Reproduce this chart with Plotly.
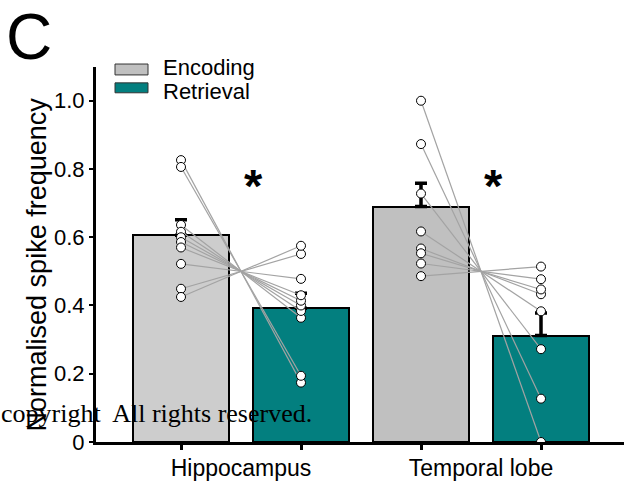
import plotly.graph_objects as go

# ---------------- data ----------------
categories = ["Hippocampus", "Temporal lobe"]
conditions = ["Encoding", "Retrieval"]

enc_means = [0.606, 0.690]
ret_means = [0.392, 0.312]
enc_err = [0.045, 0.068]
ret_err = [0.044, 0.066]

hipp_enc = [0.826, 0.806, 0.636, 0.616, 0.600, 0.586, 0.570, 0.522, 0.449, 0.425]
hipp_ret = [0.174, 0.194, 0.364, 0.384, 0.400, 0.414, 0.430, 0.478, 0.551, 0.575]
temp_enc = [1.000, 0.873, 0.728, 0.617, 0.567, 0.553, 0.523, 0.486]
temp_ret = [0.000, 0.127, 0.272, 0.383, 0.433, 0.447, 0.477, 0.514]

y_ticks = [0, 0.2, 0.4, 0.6, 0.8, 1.0]
y_ticktext = ["0", "0.2", "0.4", "0.6", "0.8", "1.0"]
significance = ["*", "*"]

# ---------------- styling ----------------
SANS = "Liberation Sans, Arial, sans-serif"
SERIF = "Liberation Serif, Times New Roman, serif"
ENC_COLORS = ["#CDCDCD", "#C0C0C0"]
RET_COLOR = "#037F7F"
LINE_GRAY = "#A3A3A3"

W, H = 624, 481
ML, MR, MT, MB = 96, 0, 67, 36
PW = W - ML - MR
PH = H - MT - MB

# bar positions: each category has an encoding and a retrieval bar
enc_x = [2 * i for i in range(len(categories))]
ret_x = [2 * i + 1 for i in range(len(categories))]
cat_x = [2 * i + 0.5 for i in range(len(categories))]

fig = go.Figure()

fig.add_trace(go.Bar(
    x=enc_x, y=enc_means, width=0.8, name=conditions[0],
    marker=dict(color=ENC_COLORS, line=dict(color="black", width=2)),
    error_y=dict(type="data", array=enc_err, symmetric=False,
                 arrayminus=[0] * len(enc_err), color="black",
                 thickness=3.5, width=6),
    showlegend=False,
))
fig.add_trace(go.Bar(
    x=ret_x, y=ret_means, width=0.8, name=conditions[1],
    marker=dict(color=RET_COLOR, line=dict(color="black", width=2)),
    error_y=dict(type="data", array=ret_err, symmetric=False,
                 arrayminus=[0] * len(ret_err), color="black",
                 thickness=3.5, width=6),
    showlegend=False,
))

pairs = [(hipp_enc, hipp_ret), (temp_enc, temp_ret)]
for i, (e_vals, r_vals) in enumerate(pairs):
    lx, ly = [], []
    for e, r in zip(e_vals, r_vals):
        lx += [enc_x[i], ret_x[i], None]
        ly += [e, r, None]
    fig.add_trace(go.Scatter(
        x=lx, y=ly, mode="lines",
        line=dict(color=LINE_GRAY, width=1.2),
        hoverinfo="skip", showlegend=False,
    ))

for i, (e_vals, r_vals) in enumerate(pairs):
    fig.add_trace(go.Scatter(
        x=[enc_x[i]] * len(e_vals) + [ret_x[i]] * len(r_vals),
        y=list(e_vals) + list(r_vals),
        mode="markers",
        marker=dict(size=9, color="white", line=dict(color="black", width=1)),
        showlegend=False,
    ))

# x range so that 1 unit = 120 px, first bar centred at 181 px
x_lo = (ML - 181) / 120
x_hi = x_lo + PW / 120
y_hi = PH / 344

fig.update_layout(
    width=W, height=H,
    margin=dict(l=ML, r=MR, t=MT, b=MB, pad=0),
    plot_bgcolor="white", paper_bgcolor="white",
    font=dict(family=SANS, color="black", size=22),
    bargap=0,
    xaxis=dict(
        range=[x_lo, x_hi], showgrid=False, zeroline=False,
        showline=True, linecolor="black", linewidth=3,
        tickmode="array", tickvals=cat_x, ticktext=categories,
        ticks="", tickfont=dict(size=23, family=SANS),
        ticklabelstandoff=3,
        minor=dict(tickmode="array", tickvals=enc_x + ret_x, ticks="outside",
                   ticklen=5, tickwidth=3, tickcolor="black", showgrid=False),
    ),
    yaxis=dict(
        range=[0, y_hi], showgrid=False, zeroline=False,
        showline=True, linecolor="black", linewidth=3,
        tickmode="array", tickvals=y_ticks, ticktext=y_ticktext,
        ticks="outside", ticklen=4, tickwidth=2, tickcolor="black",
        tickfont=dict(size=22, family=SANS),
    ),
)

def px_x(p):
    return (p - ML) / PW

def px_y(p):
    return (H - MB - p) / PH

annotations = []
# significance stars
for i, s in enumerate(significance):
    annotations.append(dict(
        x=enc_x[i] + 0.6, y=0.752, xref="x", yref="y", text=s,
        showarrow=False, xanchor="center", yanchor="middle",
        font=dict(size=47, family=SANS, color="black", weight="bold"),
    ))
# y axis title
annotations.append(dict(
    x=px_x(37), y=px_y(266), xref="paper", yref="paper",
    text="Normalised spike frequency", textangle=-90,
    showarrow=False, xanchor="center", yanchor="middle",
    font=dict(size=27, family=SANS, color="black"),
))
# panel label
annotations.append(dict(
    x=px_x(4), y=px_y(37), xref="paper", yref="paper", text="C",
    showarrow=False, xanchor="left", yanchor="middle",
    font=dict(size=64, family=SANS, color="black"),
))
# legend labels
annotations.append(dict(
    x=px_x(161), y=px_y(67), xref="paper", yref="paper", text=conditions[0],
    showarrow=False, xanchor="left", yanchor="middle",
    font=dict(size=22, family=SANS, color="black"),
))
annotations.append(dict(
    x=px_x(161), y=px_y(92), xref="paper", yref="paper", text=conditions[1],
    showarrow=False, xanchor="left", yanchor="middle",
    font=dict(size=22, family=SANS, color="black"),
))
# watermark
annotations.append(dict(
    x=px_x(314), y=px_y(416), xref="paper", yref="paper",
    text="copyright\u00a0 All rights reserved.",
    showarrow=False, xanchor="right", yanchor="middle",
    font=dict(size=26, family=SERIF, color="black"),
))
fig.update_layout(annotations=annotations)

# legend swatches
fig.add_shape(type="rect", xref="paper", yref="paper",
              x0=px_x(115), x1=px_x(148), y0=px_y(75), y1=px_y(64),
              fillcolor="#C0C0C0", line=dict(color="#333333", width=1))
fig.add_shape(type="rect", xref="paper", yref="paper",
              x0=px_x(115), x1=px_x(148), y0=px_y(93), y1=px_y(83),
              fillcolor=RET_COLOR, line=dict(color="#333333", width=1))

fig.write_html("out.html")
